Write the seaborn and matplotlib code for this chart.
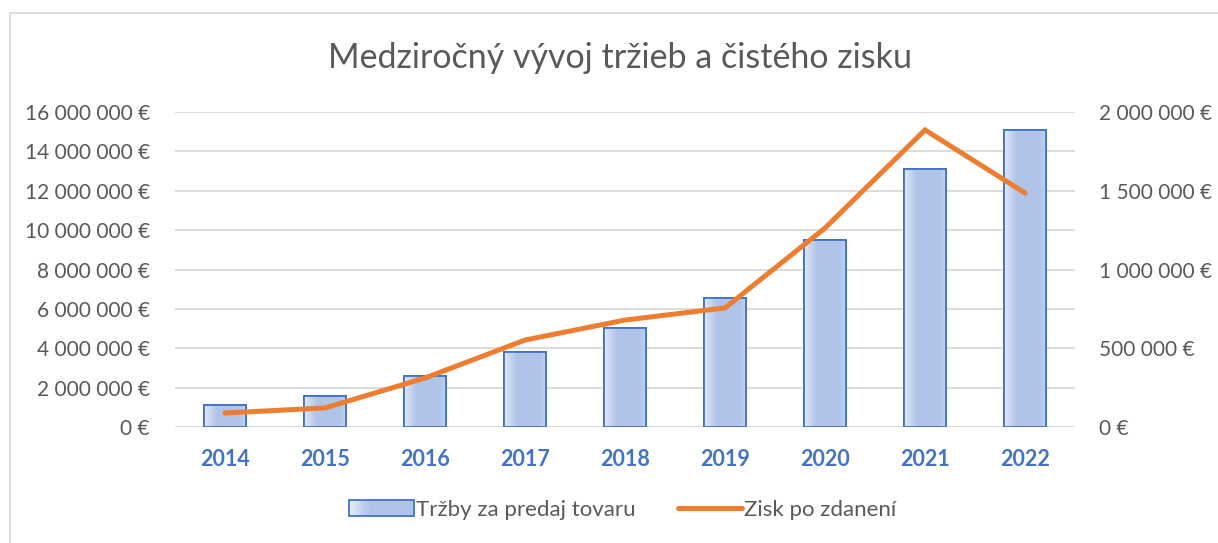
import numpy as np
import pandas as pd
import matplotlib
matplotlib.use("Agg")
import matplotlib.pyplot as plt
import seaborn as sns
from matplotlib.patches import Rectangle
from matplotlib.lines import Line2D
from matplotlib.ticker import FuncFormatter, FixedLocator
from matplotlib.legend_handler import HandlerBase

years = ["2014", "2015", "2016", "2017", "2018", "2019", "2020", "2021", "2022"]
trzby = [1100000, 1550000, 2590000, 3810000, 5020000, 6550000, 9500000, 13100000, 15080000]
zisk = [89000, 121000, 311000, 552000, 679000, 756000, 1263000, 1886000, 1486000]
title = "Medziročný vývoj tržieb a čistého zisku"
label_bar = "Tržby za predaj tovaru"
label_line = "Zisk po zdanení"

sns.set_style("white")
plt.rcParams["font.family"] = ["Lato", "DejaVu Sans"]

df = pd.DataFrame({"rok": years, "trzby": trzby, "zisk": zisk})

W, H = 1218, 543
fig = plt.figure(figsize=(W / 100, H / 100), dpi=100)
ax = fig.add_axes([175 / W, 1 - 427 / H, 900 / W, 315 / H])

BLUE = "#4472C4"
ORANGE = "#ED7D31"
GRAY_TXT = "#595959"

sns.barplot(data=df, x="rok", y="trzby", ax=ax, color="#B4C7E7", width=0.42,
            edgecolor=BLUE, linewidth=1.3, saturation=1)

# gradient fill for bars
grad = np.linspace(0, 1, 256)
c_light = np.array([0.88, 0.91, 0.97])
c_mid = np.array([0.69, 0.77, 0.91])
prof = np.clip(grad / 0.3, 0, 1)
prof = np.where(grad > 0.85, 1 - (grad - 0.85) / 0.15 * 0.35, prof)
img = (c_light[None, :] + (c_mid - c_light)[None, :] * prof[:, None])[None, :, :]
for p in list(ax.patches):
    x0, y0 = p.get_x(), p.get_y()
    w, h = p.get_width(), p.get_height()
    im = ax.imshow(img, extent=[x0, x0 + w, y0, y0 + h], aspect="auto", zorder=p.get_zorder() + 0.1,
                   interpolation="bilinear")
    im.set_clip_path(p)
    r = Rectangle((x0, y0), w, h, facecolor="none", edgecolor=BLUE, linewidth=1.3,
                  zorder=p.get_zorder() + 0.2)
    ax.add_patch(r)

ax.set_xlim(-0.5, 8.5)
ax.set_ylim(0, 16000000)
ax.yaxis.set_major_locator(FixedLocator(np.arange(0, 16000001, 2000000)))

def fmt(v, pos=None):
    s = f"{int(round(v)):,}".replace(",", " ")
    return f"{s} €"

ax.yaxis.set_major_formatter(FuncFormatter(fmt))
ax.grid(axis="y", color="#D9D9D9", linewidth=1.3)
ax.set_axisbelow(True)
for s in ax.spines.values():
    s.set_visible(False)
ax.tick_params(axis="y", length=0, pad=18, labelsize=15, labelcolor=GRAY_TXT)
ax.tick_params(axis="x", length=0, pad=16, labelsize=15.5, labelcolor=BLUE)
for t in ax.get_xticklabels():
    t.set_fontweight("bold")
ax.set_xlabel("")
ax.set_ylabel("")

ax2 = ax.twinx()
sns.lineplot(x=np.arange(len(years)), y=zisk, ax=ax2, color=ORANGE, linewidth=3.6,
             solid_capstyle="round", solid_joinstyle="miter", zorder=5)
ax2.set_ylim(0, 2000000)
ax2.yaxis.set_major_locator(FixedLocator(np.arange(0, 2000001, 500000)))
ax2.yaxis.set_major_formatter(FuncFormatter(fmt))
ax2.tick_params(axis="y", length=0, pad=17, labelsize=15, labelcolor=GRAY_TXT)
for s in ax2.spines.values():
    s.set_visible(False)
ax2.set_ylabel("")
ax2.set_xlim(-0.5, 8.5)

fig.text(620 / W, 1 - 58 / H, title, ha="center", va="center", fontsize=24.5, color=GRAY_TXT)

# legend
class GradHandler(HandlerBase):
    def create_artists(self, legend, orig, xd, yd, width, height, fontsize, trans):
        arts = []
        n = 20
        for i in range(n):
            f = i / (n - 1)
            pr = min(f / 0.3, 1)
            col = c_light + (c_mid - c_light) * pr
            arts.append(Rectangle((xd + width * i / n, yd), width / n + 0.3, height,
                                  facecolor=col, edgecolor="none", transform=trans))
        arts.append(Rectangle((xd, yd), width, height, facecolor="none", edgecolor=BLUE,
                              linewidth=1.3, transform=trans))
        return arts

bar_handle = Rectangle((0, 0), 1, 1)
line_handle = Line2D([], [], color=ORANGE, linewidth=3.6, solid_capstyle="round")
fig.legend([bar_handle, line_handle], [label_bar, label_line],
           handler_map={Rectangle: GradHandler()},
           loc="center", bbox_to_anchor=(623 / W, 1 - 510 / H), ncol=2, frameon=False,
           fontsize=16, labelcolor=GRAY_TXT, handlelength=2.9, handleheight=0.7,
           handletextpad=0.1, columnspacing=1.9)

# chart border
fig.patches.append(Rectangle((10 / W, -0.1), 1.2, 1.1 - 13 / H, transform=fig.transFigure,
                             facecolor="none", edgecolor="#D9D9D9", linewidth=1.3))

fig.savefig("out.png", dpi=100)
